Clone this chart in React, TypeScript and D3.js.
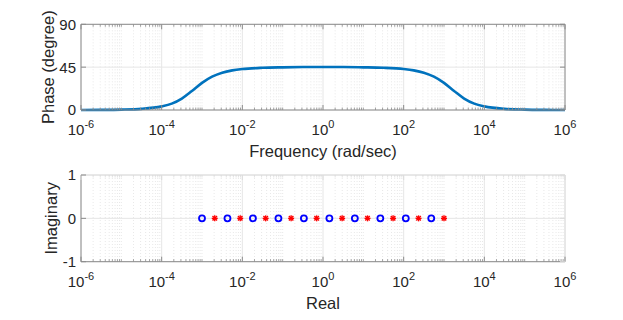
import React from "react";
import * as d3 from "d3";

// phase curve (rad/sec, degrees)
const phaseFreq = [
  1e-6, 3.16e-6, 1e-5, 3.16e-5, 1e-4, 1.78e-4, 3.16e-4, 5.62e-4, 1e-3, 1.78e-3,
  3.16e-3, 5.62e-3, 1e-2, 3.16e-2, 1e-1, 3.16e-1, 1, 3.16, 10, 31.6, 100, 178,
  316, 562, 1000, 1780, 3160, 5620, 1e4, 3.16e4, 1e5, 3.16e5, 1e6,
];
const phaseDeg = [
  0.04, 0.12, 0.39, 1.2, 3.8, 6.7, 12, 20, 28.5, 35, 39.2, 41.6, 43, 44.3, 44.8,
  45.1, 45.2, 45.1, 44.8, 44.3, 43, 41.6, 39.2, 35, 28.5, 20, 12, 6.7, 3.8, 1.2,
  0.39, 0.12, 0.04,
];

// zeros (o) and poles (*) on the real axis
const zeros = [0.001, 0.00428, 0.0183, 0.0785, 0.336, 1.44, 6.16, 26.4, 113, 483];
const poles = [0.00207, 0.00886, 0.0379, 0.162, 0.695, 2.98, 12.7, 54.6, 234, 1000];

const xMajorExp = [-6, -4, -2, 0, 2, 4, 6];
const phaseTicks = [0, 45, 90];
const imagTicks = [-1, 0, 1];

const W = 623;
const H = 320;
const left = 81;
const right = 565;
const textColor = "#262626";
const font = "'Liberation Sans', Arial, Helvetica, sans-serif";

const x = d3.scaleLog().domain([1e-6, 1e6]).range([left, right]);

// minor log positions: 2..9 x each decade, plus the odd decades
const minorX: number[] = [];
for (let e = -6; e < 6; e++) {
  for (let m = 1; m <= 9; m++) {
    if (m === 1 && e % 2 === 0) continue;
    minorX.push(m * Math.pow(10, e));
  }
}

type PanelProps = {
  y: d3.ScaleLinear<number, number>;
  yTicks: number[];
  yLabel: string;
  xLabel: string;
  labelX: number;
  lightBox?: boolean;
  children?: React.ReactNode;
};

const Panel = ({ y, yTicks, yLabel, xLabel, labelX, lightBox, children }: PanelProps) => {
  const [yb, yt] = y.range();
  const axisCol = "#8c8c8c";
  const boxCol = lightBox ? "#dcdcdc" : axisCol;
  return (
    <g>
      {/* minor grid */}
      {minorX.map((v, i) => (
        <line key={"mg" + i} x1={x(v)} x2={x(v)} y1={yt} y2={yb}
          stroke="#d9d9d9" strokeWidth={0.6} strokeDasharray="1,2" />
      ))}
      {/* major grid */}
      {xMajorExp.map((e) => (
        <line key={"Mg" + e} x1={x(Math.pow(10, e))} x2={x(Math.pow(10, e))} y1={yt} y2={yb}
          stroke="#e6e6e6" strokeWidth={1} />
      ))}
      {yTicks.map((t) => (
        <line key={"yg" + t} x1={left} x2={right} y1={y(t)} y2={y(t)} stroke="#e6e6e6" strokeWidth={1} />
      ))}

      {children}

      {/* box */}
      <line x1={left} x2={right} y1={yt} y2={yt} stroke={boxCol} strokeWidth={1} />
      <line x1={right} x2={right} y1={yt} y2={yb} stroke={boxCol} strokeWidth={1} />
      <line x1={left} x2={right} y1={yb} y2={yb} stroke={axisCol} strokeWidth={1} />
      <line x1={left} x2={left} y1={yt} y2={yb} stroke={axisCol} strokeWidth={1} />

      {/* x ticks */}
      {minorX.map((v, i) => (
        <g key={"mt" + i}>
          <line x1={x(v)} x2={x(v)} y1={yb} y2={yb - 2.5} stroke={axisCol} strokeWidth={0.8} />
          <line x1={x(v)} x2={x(v)} y1={yt} y2={yt + 2.5} stroke={boxCol} strokeWidth={0.8} />
        </g>
      ))}
      {xMajorExp.map((e) => (
        <g key={"Mt" + e}>
          <line x1={x(Math.pow(10, e))} x2={x(Math.pow(10, e))} y1={yb} y2={yb - 5} stroke={axisCol} strokeWidth={1} />
          <line x1={x(Math.pow(10, e))} x2={x(Math.pow(10, e))} y1={yt} y2={yt + 5} stroke={boxCol} strokeWidth={1} />
          <text x={x(Math.pow(10, e))} y={yb + 25} textAnchor="middle" fontSize={15} fill={textColor}>
            <tspan>10</tspan>
            <tspan dy={-7} fontSize={11}>{String(e)}</tspan>
          </text>
        </g>
      ))}
      {/* y ticks */}
      {yTicks.map((t) => (
        <g key={"yt" + t}>
          <line x1={left} x2={left + 5} y1={y(t)} y2={y(t)} stroke={axisCol} strokeWidth={1} />
          <line x1={right} x2={right - 5} y1={y(t)} y2={y(t)} stroke={boxCol} strokeWidth={1} />
          <text x={left - 5} y={y(t)} dy="0.36em" textAnchor="end" fontSize={15} fill={textColor}>
            {t}
          </text>
        </g>
      ))}

      <text x={(left + right) / 2} y={yb + 47} textAnchor="middle" fontSize={16.5} fill={textColor}>
        {xLabel}
      </text>
      <text transform={`translate(${labelX},${(yt + yb) / 2}) rotate(-90)`} textAnchor="middle"
        fontSize={16.5} fill={textColor}>
        {yLabel}
      </text>
    </g>
  );
};

const App = () => {
  const yPhase = d3.scaleLinear().domain([0, 90]).range([110, 24.3]);
  const yImag = d3.scaleLinear().domain([-1, 1]).range([261.7, 175]);

  const line = d3
    .line<number>()
    .x((_, i) => x(phaseFreq[i]))
    .y((d) => yPhase(d))
    .curve(d3.curveMonotoneX);

  const s = 3;
  return (
    <svg width={W} height={H} style={{ position: "absolute", left: 0, top: 0, fontFamily: font }}>
      <rect width={W} height={H} fill="#fff" />
      <Panel y={yPhase} yTicks={phaseTicks} yLabel="Phase (degree)" xLabel="Frequency (rad/sec)" labelX={54}>
        <path d={line(phaseDeg) || ""} fill="none" stroke="#0072BD" strokeWidth={2.6} />
      </Panel>
      <Panel y={yImag} yTicks={imagTicks} yLabel="Imaginary" xLabel="Real" labelX={57} lightBox>
        {zeros.map((z, i) => (
          <circle key={"z" + i} cx={x(z)} cy={yImag(0)} r={3} fill="none" stroke="#0000ff" strokeWidth={1.8} />
        ))}
        {poles.map((p, i) => (
          <g key={"p" + i} stroke="#ff0000" strokeWidth={1.4}>
            <line x1={x(p) - s} x2={x(p) + s} y1={yImag(0)} y2={yImag(0)} />
            <line x1={x(p)} x2={x(p)} y1={yImag(0) - s} y2={yImag(0) + s} />
            <line x1={x(p) - s * 0.75} x2={x(p) + s * 0.75} y1={yImag(0) - s * 0.75} y2={yImag(0) + s * 0.75} />
            <line x1={x(p) - s * 0.75} x2={x(p) + s * 0.75} y1={yImag(0) + s * 0.75} y2={yImag(0) - s * 0.75} />
          </g>
        ))}
      </Panel>
    </svg>
  );
};

export default App;
